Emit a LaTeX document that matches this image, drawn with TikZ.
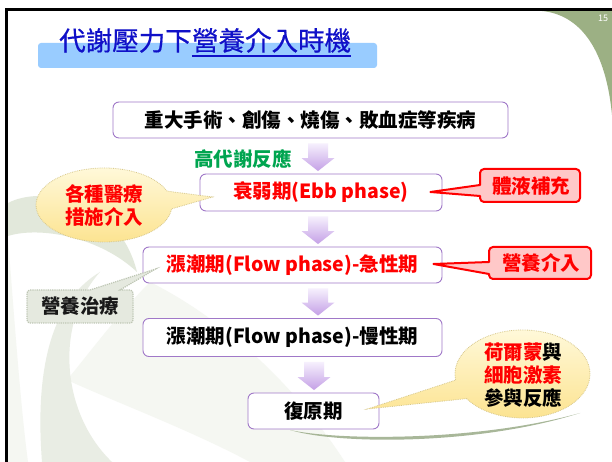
\documentclass[tikz,border=0pt]{standalone}
\usepackage{fontspec}
\newfontfamily\cjk{Noto Sans CJK TC}
\newfontfamily\cjktitle[FakeBold=0.6]{Noto Sans CJK TC}
\usetikzlibrary{shapes.geometric,calc}
\definecolor{boxpurple}{RGB}{160,120,200}
\definecolor{arrowtop}{RGB}{246,240,253}
\definecolor{arrowbot}{RGB}{196,160,230}
\definecolor{titleblue}{RGB}{16,16,200}
\definecolor{barblue}{RGB}{153,204,255}
\definecolor{cornergreen}{RGB}{156,176,132}
\definecolor{redtxt}{RGB}{255,0,0}
\definecolor{greentxt}{RGB}{0,165,80}
\definecolor{ylwtop}{RGB}{255,250,222}
\definecolor{ylwbot}{RGB}{252,226,140}
\definecolor{ylwedge}{RGB}{215,200,140}
\definecolor{pinkfill}{RGB}{255,200,200}
\definecolor{graybox}{RGB}{229,233,223}
\definecolor{grayedge}{RGB}{190,198,180}
\definecolor{swA}{RGB}{226,232,219}
\definecolor{swB}{RGB}{233,237,228}
\definecolor{swC}{RGB}{245,247,242}
\definecolor{swoosh}{RGB}{140,160,120}
\newcommand\flowarrow[3]{%
  \path (#3,0) coordinate (ax);
  \path[arrowshade] let \p1=($(ax |- #1.south)+(0,-5)$), \p2=($(ax |- #2.north)+(0,2.5)$) in
    (\x1-10pt,\y1) -- (\x1+10pt,\y1) -- (\x1+10pt,\y2+13pt) -- (\x1+16.5pt,\y2+13pt)
    -- (\x1,\y2) -- (\x1-16.5pt,\y2+13pt) -- (\x1-10pt,\y2+13pt) -- cycle;
}
\begin{document}
\begin{tikzpicture}[x=1pt,y=1pt,
  base/.style={font=\cjk\bfseries\fontsize{19.5}{23}\selectfont},
  stagebox/.style={base, draw=boxpurple, line width=0.9pt, rounded corners=6pt, fill=white, inner sep=0pt},
  arrowshade/.style={top color=arrowtop, bottom color=arrowbot, draw=none},
  ylwcallout/.style={top color=ylwtop, bottom color=ylwbot, draw=ylwedge, densely dotted, line width=0.8pt},
  redcallout/.style={fill=pinkfill, draw=redtxt, line width=2pt, line join=round},
  graycallout/.style={fill=graybox, draw=grayedge, densely dotted, line width=1.2pt},
  titlefont/.style={font=\cjktitle\fontsize{26.5}{30}\selectfont, text=titleblue, inner sep=0pt}]
\useasboundingbox (0,0) rectangle (612,462);
\fill[white] (0,0) rectangle (612,462);
% background swooshes
\fill[swC] (7,0) -- (7,235) .. controls (14,150) and (20,60) .. (28,0) -- cycle;
\fill[swC] (67,82) .. controls (120,58) and (190,32) .. (250,0) -- (345,0) .. controls (300,70) and (230,140) .. (150,180) .. controls (120,150) and (90,110) .. (67,82) -- cycle;
\fill[swB] (100,190) .. controls (50,160) and (35,90) .. (42,0) -- (112,0) .. controls (60,50) and (55,140) .. (100,190) -- cycle;
\fill[swA] (8,259) .. controls (40,276) and (118,266) .. (137,190) .. controls (100,225) and (40,236) .. (8,226) -- cycle;
% corner
\fill[cornergreen] (540,451.2) .. controls (582,448) and (606,410) .. (612,347) -- (612,451.2) -- cycle;
\node[font=\cjk\fontsize{9}{9}\selectfont, text=white, inner sep=0pt] (pg) at (603,444) {15};
% frame
\draw[line width=2.5pt] (6.5,0) -- (6.5,452.5) -- (612,452.5);
% title
\fill[barblue, rounded corners=3pt] (38,394) rectangle (377,419);
\node[titlefont, anchor=base west] (tA) at (59,411.5) {代謝壓力下};
\node[titlefont, anchor=base west] (tB) at (tA.base east) {營養介入時機};
\draw[titleblue, line width=1.1pt] ([yshift=-5.5pt]tB.base west) -- ([yshift=-5.5pt]tB.base east);
% stages
\node[stagebox, minimum width=395pt, minimum height=36pt, text=black] (b1) at (310.5,342) {重大手術、創傷、燒傷、敗血症等疾病};
\node[stagebox, minimum width=242pt, minimum height=37pt, text=redtxt] (b2) at (321,269.5) {衰弱期(Ebb phase)};
\node[stagebox, minimum width=299pt, minimum height=36pt, text=redtxt] (b3) at (292.5,197) {漲潮期(Flow phase)-急性期};
\node[stagebox, minimum width=299pt, minimum height=38pt, text=black] (b4) at (292.5,124.5) {漲潮期(Flow phase)-慢性期};
\node[stagebox, minimum width=131pt, minimum height=36pt, text=black] (b5) at (313.5,51) {復原期};
% arrows
\flowarrow{b1}{b2}{318}
\flowarrow{b2}{b3}{318}
\flowarrow{b3}{b4}{318}
\flowarrow{b4}{b5}{314}
\node[base, text=greentxt] (hyper) at (243,303.5) {高代謝反應};
% callout: 各種醫療措施介入
\coordinate (tip1) at ($(b2.west)+(13,-4.5)$);
\path[ylwcallout] (104,257) ++(22:68pt and 37pt) arc[start angle=22, end angle=354, x radius=68pt, y radius=37pt] -- (tip1) -- cycle;
\node[base, text=redtxt, align=center] (c1) at (104,256.5) {各種醫療\\措施介入};
% callout: 體液補充
\coordinate (tip2) at ($(b2.east)+(-12,0.5)$);
\path[redcallout] (480,277) [rounded corners=4pt] -- (480,293) -- (580,293) -- (580,260) -- (480,260) [sharp corners] -- (480,266) -- (tip2) -- cycle;
\node[base, text=redtxt] (c2) at (531,276) {體液補充};
% callout: 營養介入
\coordinate (tip3) at ($(b3.east)+(-9,1)$);
\path[redcallout] (489,200) [rounded corners=4pt] -- (489,215) -- (591,215) -- (591,183) -- (489,183) [sharp corners] -- (489,188) -- (tip3) -- cycle;
\node[base, text=redtxt] (c3) at (541,199) {營養介入};
% callout: 營養治療
\coordinate (tip4) at ($(b3.west)+(13,-4)$);
\path[graycallout] (90,172) -- (tip4) -- (120,172) [rounded corners=3pt] -- (133,172) -- (133,139) -- (27,139) -- (27,172) [sharp corners] -- cycle;
\node[base, text=black!90] (c4) at (80,156) {營養治療};
% callout: 荷爾蒙與細胞激素參與反應
\coordinate (tip5) at ($(b5.east)+(-12,2)$);
\path[ylwcallout] (522.5,88) ++(214:67.5pt and 44pt) arc[start angle=214, end angle=548, x radius=67.5pt, y radius=44pt] -- (tip5) -- cycle;
\node[base, text=black, align=center] (c5) at (523,87) {\textcolor{redtxt}{荷爾蒙}與\\\textcolor{redtxt}{細胞激素}\\參與反應};
% bottom swoosh
\fill[swoosh, opacity=0.75] (290,32) .. controls (340,17) and (480,17) .. (580,49) .. controls (480,21) and (340,21) .. (290,32) -- cycle;
\end{tikzpicture}
\end{document}
